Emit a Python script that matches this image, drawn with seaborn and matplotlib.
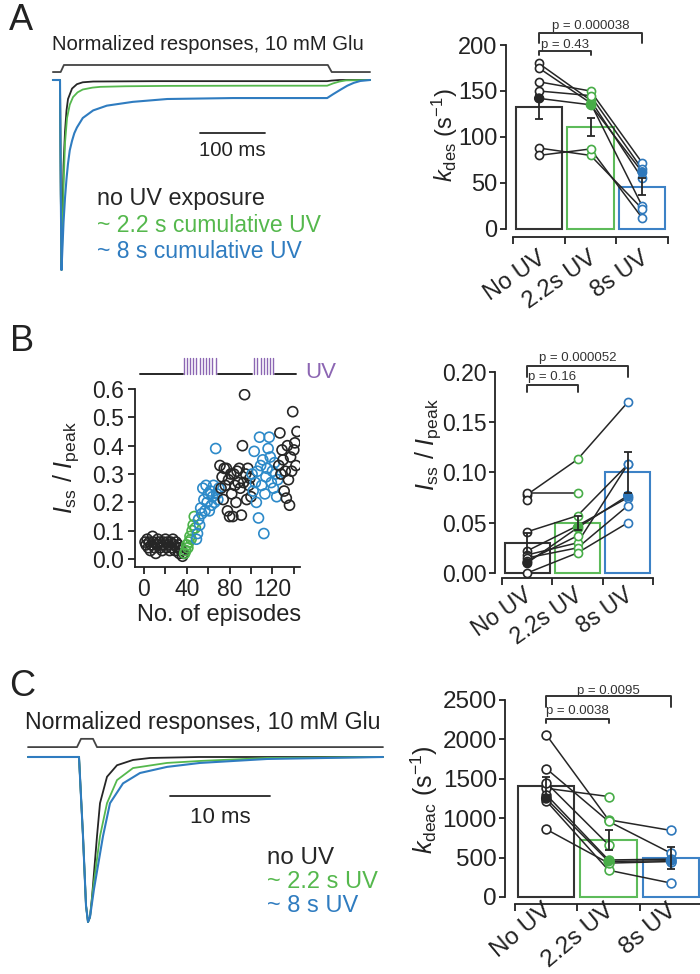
import numpy as np
import pandas as pd
import matplotlib
matplotlib.use("Agg")
import matplotlib.pyplot as plt
from matplotlib.transforms import ScaledTranslation
import seaborn as sns

sns.set_theme(style="ticks")
plt.rcParams['font.family'] = ['Liberation Sans', 'DejaVu Sans']
plt.rcParams['mathtext.fontset'] = 'custom'
plt.rcParams['mathtext.rm'] = 'Liberation Sans'
plt.rcParams['mathtext.it'] = 'Liberation Sans:italic'
plt.rcParams['axes.edgecolor'] = '#222222'
plt.rcParams['xtick.color'] = '#222222'
plt.rcParams['ytick.color'] = '#222222'
plt.rcParams['text.color'] = '#222222'

nan = np.nan
# ---------------- data ----------------
conditions = ["No UV", "2.2s UV", "8s UV"]

# Panel A traces (time in ms, normalized current)
trA_cmd_t = [-11, 1, 6, 412, 418, 477]
trA_cmd_v = [0.042, 0.042, 0.079, 0.079, 0.042, 0.042]
trA_black_t = [-11, 0, 1.2, 2.3, 3.8, 5.4, 7.7, 10, 12.3, 18.5, 26, 35, 51, 150, 411, 418, 430, 477]
trA_black_v = [0, 0, -0.6, -1.0, -0.72, -0.45, -0.27, -0.16, -0.10, -0.045, -0.022, -0.012, -0.008, -0.006, -0.006, -0.003, 0, 0]
trA_green_t = [-11, 0, 1.2, 2.3, 3.8, 5.4, 7.7, 10.8, 15, 20, 27, 35, 50, 62, 100, 165, 300, 411, 420, 430, 440, 477]
trA_green_v = [0, 0, -0.6, -1.0, -0.8, -0.56, -0.33, -0.2, -0.13, -0.09, -0.065, -0.05, -0.04, -0.036, -0.033, -0.031, -0.03, -0.03, -0.018, -0.008, -0.002, 0]
trA_blue_t = [-11, 0, 1.2, 2.3, 3.8, 5.4, 7.7, 10, 12.3, 15, 18.5, 22, 26, 35, 51, 72, 112, 165, 266, 411, 420, 432, 442, 452, 462, 477]
trA_blue_v = [0, 0, -0.6, -1.0, -0.88, -0.75, -0.62, -0.52, -0.44, -0.37, -0.32, -0.28, -0.25, -0.2, -0.16, -0.135, -0.115, -0.10, -0.095, -0.095, -0.075, -0.05, -0.03, -0.015, -0.005, 0]
scalebarA_ms = 100

# Panel A bars: k_des (s^-1)
kdes_noUV = [180, 175, 160, 150, 142, 88, 80]
kdes_22UV = [140, 137, 150, 145, 135, 80, 87]
kdes_8UV = [55, 25, 72, 65, 62, 22, 12]
kdes_example = 4
kdes_mean = [133, 111, 46]
kdes_sem = [13, 10, 9]
kdes_p = ["p = 0.000038", "p = 0.43"]

# Panel B scatter: Iss/Ipeak vs episode
ep_pre = list(range(1, 38))
iss_pre = [0.06, 0.05, 0.07, 0.04, 0.06, 0.03, 0.05, 0.08, 0.06, 0.04, 0.02, 0.05, 0.07, 0.06,
           0.04, 0.05, 0.03, 0.06, 0.05, 0.07, 0.04, 0.06, 0.05, 0.03, 0.06, 0.04, 0.07, 0.05,
           0.03, 0.06, 0.04, 0.05, 0.02, 0.04, 0.03, 0.01, 0.02]
ep_uv1_green = list(range(38, 49))
iss_uv1_green = [0.02, 0.03, 0.05, 0.04, 0.06, 0.08, 0.07, 0.10, 0.12, 0.15, 0.11]
ep_uv1_blue = list(range(49, 71))
iss_uv1_blue = [0.07, 0.09, 0.14, 0.12, 0.18, 0.16, 0.25, 0.21, 0.17, 0.26, 0.20, 0.23, 0.17,
                0.24, 0.19, 0.22, 0.26, 0.20, 0.39, 0.23, 0.21, 0.25]
ep_mid = list(range(71, 101))
iss_mid = [0.33, 0.25, 0.29, 0.21, 0.32, 0.26, 0.32, 0.17, 0.28, 0.15, 0.30, 0.23, 0.15, 0.30,
           0.26, 0.20, 0.31, 0.27, 0.32, 0.25, 0.155, 0.40, 0.27, 0.58, 0.30, 0.21, 0.32, 0.26,
           0.285, 0.22]
ep_uv2_blue = list(range(101, 126))
iss_uv2_blue = [0.30, 0.24, 0.38, 0.27, 0.20, 0.31, 0.145, 0.43, 0.33, 0.26, 0.35, 0.09, 0.23,
                0.29, 0.32, 0.39, 0.43, 0.36, 0.27, 0.31, 0.25, 0.34, 0.30, 0.22, 0.28]
ep_post = list(range(126, 144))
iss_post = [0.33, 0.445, 0.30, 0.385, 0.35, 0.24, 0.31, 0.215, 0.40, 0.28, 0.19, 0.36, 0.31,
            0.52, 0.385, 0.41, 0.33, 0.45]
uv_base_segments = [(-4, 36), (69, 101), (122, 142)]
uv_pulses = [37, 40, 43, 46, 49, 52, 55, 58, 61, 64, 67, 103, 106, 109, 112, 115, 118, 121]

# Panel B bars: Iss/Ipeak
iss_noUV = [0.078, 0.080, 0.073, 0.041, 0.022, 0.018, 0.010, 0.015, 0.000, 0.012]
iss_22UV = [0.113, 0.080, nan, 0.057, 0.047, 0.030, 0.045, 0.025, 0.020, 0.037]
iss_8UV = [0.170, nan, nan, 0.108, 0.075, 0.108, 0.077, 0.067, 0.050, nan]
iss_example = 6
iss_mean = [0.030, 0.050, 0.100]
iss_sem = [0.010, 0.007, 0.020]
iss_p = ["p = 0.000052", "p = 0.16"]

# Panel C traces (time in ms)
trC_cmd_t = [-5.1, -0.2, 0.2, 1.4, 1.8, 30.4]
trC_cmd_v = [0.06, 0.06, 0.11, 0.11, 0.06, 0.06]
trC_black_t = [-5.1, 0, 0.4, 0.7, 0.9, 1.1, 1.3, 1.8, 2.1, 2.8, 3.8, 5.4, 7.1, 12, 30.4]
trC_black_v = [0, 0, -0.48, -0.9, -1.0, -0.97, -0.85, -0.48, -0.28, -0.12, -0.05, -0.018, -0.006, 0, 0]
trC_green_t = [-5.1, 0, 0.4, 0.7, 0.9, 1.1, 1.4, 2.1, 2.8, 3.8, 5.4, 8.8, 12.1, 18.8, 30.4]
trC_green_v = [0, 0, -0.48, -0.9, -1.0, -0.97, -0.8, -0.48, -0.28, -0.14, -0.067, -0.036, -0.024, -0.006, 0]
trC_blue_t = [-5.1, 0, 0.4, 0.7, 0.9, 1.1, 1.5, 2.4, 3.1, 4.4, 6.1, 8.8, 12.1, 18.8, 30.4]
trC_blue_v = [0, 0, -0.48, -0.9, -1.0, -0.97, -0.8, -0.48, -0.28, -0.16, -0.097, -0.06, -0.036, -0.012, 0]
scalebarC_ms = 10

# Panel C bars: k_deac (s^-1)
kdeac_noUV = [2060, 1630, 1380, 1450, 1250, 1300, 1220, 860]
kdeac_22UV = [980, 960, 1275, 663, 452, 470, 340, 430]
kdeac_8UV = [845, 557, nan, nan, 460, 480, 177, 450]
kdeac_example = 4
kdeac_mean = [1410, 720, 490]
kdeac_sem = [110, 130, 140]
kdeac_p = ["p = 0.0095", "p = 0.0038"]

# ---------------- styling ----------------
BLACK = '#262626'
GREEN = '#55b84d'
BLUE = '#2f7cc0'
PURPLE = '#8c66b3'
bar_colors = ['#333333', '#5dbb5a', '#3d82c6']
pt_colors = [BLACK, '#48ad48', '#2f78bb']

W, H = 700, 974
fig = plt.figure(figsize=(W / 100, H / 100), dpi=100)


def px_axes(x0, y0, x1, y1):
    return fig.add_axes([x0 / W, 1 - y1 / H, (x1 - x0) / W, (y1 - y0) / H])


def ftext(x, y, s, **kw):
    kw.setdefault('va', 'center')
    fig.text(x / W, 1 - y / H, s, **kw)


def trace_lines(ax, series):
    for t, v, c, lw in series:
        sns.lineplot(x=t, y=v, ax=ax, color=c, linewidth=lw, sort=False, estimator=None)


def bar_panel(ax, cells_cols, example, means, sems, ylim, top, yticks, ylabels, fs,
              brackets, left_off, rot, lab_dx, lab_dy, lab_pad, pfs, s_pt):
    df = pd.DataFrame({"condition": conditions, "value": means})
    sns.barplot(data=df, x="condition", y="value", hue="condition", palette=bar_colors,
                fill=False, width=0.9, linewidth=1.5, saturation=1, legend=False,
                errorbar=None, ax=ax, zorder=1)
    cells = np.array(cells_cols, dtype=float).T
    xs = np.arange(3)
    for cell in cells:
        ax.plot(xs, cell, color=BLACK, lw=1.1, zorder=3)
    for i in range(3):
        vals = [v for v in cells_cols[i] if not np.isnan(v)]
        sns.scatterplot(x=[i] * len(vals), y=vals, ax=ax, s=s_pt, color=pt_colors[i],
                        facecolor='white', edgecolor=pt_colors[i], linewidth=1.2, zorder=4)
    ex = cells[example]
    ok = ~np.isnan(ex)
    ax.scatter(xs[ok], ex[ok], s=s_pt, c=[pt_colors[i] for i in range(3) if ok[i]],
               edgecolors=[pt_colors[i] for i in range(3) if ok[i]], zorder=5, linewidths=1.2)
    ax.errorbar(xs, means, yerr=sems, fmt='none', ecolor=BLACK, elinewidth=1.3,
                capsize=3, capthick=1.3, zorder=6)
    for s in ['top', 'right']:
        ax.spines[s].set_visible(False)
    ax.spines['left'].set_position(('outward', left_off))
    ax.spines['left'].set_bounds(0, top)
    ax.spines['left'].set_linewidth(1.3)
    ax.spines['bottom'].set_linewidth(1.3)
    ax.set_xlim(-0.5, 2.5)
    ax.set_ylim(*ylim)
    ax.set_xlabel('')
    ax.set_ylabel('')
    ax.set_xticks(xs)
    ax.set_xticklabels(conditions, rotation=rot, ha='right', va='top',
                       rotation_mode='anchor', fontsize=fs)
    ax.set_xticks([-0.5, 0.5, 1.5, 2.5], minor=True)
    ax.tick_params(axis='x', which='major', length=0, pad=lab_pad)
    ax.tick_params(axis='x', which='minor', length=5, width=1.3, direction='out')
    ax.set_yticks(yticks)
    ax.set_yticklabels(ylabels, fontsize=fs)
    ax.tick_params(axis='y', length=4, width=1.3, direction='out', pad=2)
    off = ScaledTranslation(lab_dx / 100, lab_dy / 100, fig.dpi_scale_trans)
    for lbl in ax.get_xticklabels():
        lbl.set_transform(lbl.get_transform() + off)
    for (x0, x1, yl, yt, ytxt, txt) in brackets:
        ax.plot([x0, x0, x1, x1], [yt, yl, yl, yt], color='#333333', lw=1.4, clip_on=False)
        ax.text((x0 + x1) / 2, ytxt, txt, ha='center', va='center', fontsize=pfs,
                color='#333333', clip_on=False)


# ================= Panel A =================
ftext(21, 20, "A", fontsize=26, ha='center')
ftext(52, 45, "Normalized responses, 10 mM Glu", fontsize=14.6, ha='left')
axA = px_axes(45, 55, 380, 280)
axA.set_xlim(-23.1, 492.3)
axA.set_ylim(-1.0526, 0.1316)
trace_lines(axA, [(trA_cmd_t, trA_cmd_v, '#444444', 1.3),
                  (trA_black_t, trA_black_v, BLACK, 1.3),
                  (trA_green_t, trA_green_v, GREEN, 1.3),
                  (trA_blue_t, trA_blue_v, BLUE, 1.5)])
axA.plot([215, 215 + scalebarA_ms], [-0.279, -0.279], color=BLACK, lw=1.3)
axA.text(215 + scalebarA_ms / 2, -0.37, f"{scalebarA_ms} ms", ha='center', va='center', fontsize=14.7)
axA.axis('off')
ftext(97, 198, "no UV exposure", fontsize=16.8, ha='left', color=BLACK)
ftext(97, 225, "~ 2.2 s cumulative UV", fontsize=16.6, ha='left', color=GREEN)
ftext(97, 252, "~ 8 s cumulative UV", fontsize=16.6, ha='left', color=BLUE)

axAr = px_axes(513, 45, 668, 237)
bar_panel(axAr, [kdes_noUV, kdes_22UV, kdes_8UV], kdes_example, kdes_mean, kdes_sem,
          (-8.7, 200), 200, [0, 50, 100, 150, 200], ["0", "50", "100", "150", "200"], 17,
          [(0, 2, 213, 202, 221, kdes_p[0]), (0, 1, 194, 189, 200, kdes_p[1])],
          5, 35, -2, 0, 7, 9.5, 34)
ftext(445, 135, r"$k_{\rm des}$ (s$^{-1}$)", fontsize=17, rotation=90, ha='center')

# ================= Panel B =================
ftext(22, 342, "B", fontsize=26, ha='center')
axS = px_axes(135, 389, 300, 567)
scatter_groups = [(ep_pre, iss_pre, BLACK), (ep_uv1_green, iss_uv1_green, '#4cb34a'),
                  (ep_uv1_blue, iss_uv1_blue, '#2d8ac9'), (ep_mid, iss_mid, BLACK),
                  (ep_uv2_blue, iss_uv2_blue, '#2d8ac9'), (ep_post, iss_post, BLACK)]
for ep, val, col in scatter_groups:
    sns.scatterplot(x=ep, y=val, ax=axS, s=52, color=col, facecolor='none',
                    edgecolor=col, linewidth=1.2)
axS.set_xlim(-8.4, 145.8)
axS.set_ylim(-0.028, 0.6)
axS.set_xticks([0, 40, 80, 120])
axS.set_xticks([20, 60, 100, 140], minor=True)
axS.set_yticks([0, 0.1, 0.2, 0.3, 0.4, 0.5, 0.6])
axS.set_yticklabels(["0.0", "0.1", "0.2", "0.3", "0.4", "0.5", "0.6"], fontsize=16.5)
axS.set_xticklabels(["0", "40", "80", "120"], fontsize=16.5)
axS.tick_params(axis='both', which='both', length=5, width=1.3, direction='out', pad=3)
axS.set_xlabel('')
axS.set_ylabel('')
for s in ['top', 'right']:
    axS.spines[s].set_visible(False)
for s in ['left', 'bottom']:
    axS.spines[s].set_linewidth(1.3)
for a, b in uv_base_segments:
    axS.plot([a, b], [0.653, 0.653], color=BLACK, lw=1.4, clip_on=False)
for p in uv_pulses:
    axS.plot([p, p], [0.653, 0.708], color=PURPLE, lw=1.0, clip_on=False)
ftext(305, 373, "UV", fontsize=16, ha='left', color=PURPLE)
ftext(219, 615, "No. of episodes", fontsize=17, ha='center')
ftext(66, 468, r"$I_{\rm ss}$ / $I_{\rm peak}$", fontsize=18, rotation=90, ha='center')

axBr = px_axes(502, 372, 653, 578)
bar_panel(axBr, [iss_noUV, iss_22UV, iss_8UV], iss_example, iss_mean, iss_sem,
          (-0.005, 0.2), 0.2, [0, 0.05, 0.10, 0.15, 0.20], ["0.00", "0.05", "0.10", "0.15", "0.20"], 16.5,
          [(0, 2, 0.206, 0.195, 0.214, iss_p[0]), (0, 1, 0.187, 0.180, 0.195, iss_p[1])],
          5, 35, -4, 0, 4, 9.5, 34)
ftext(428, 445, r"$I_{\rm ss}$ / $I_{\rm peak}$", fontsize=18, rotation=90, ha='center')

# ================= Panel C =================
ftext(22, 687, "C", fontsize=26, ha='center')
ftext(25, 722, "Normalized responses, 10 mM Glu", fontsize=16.7, ha='left')
axC = px_axes(20, 730, 395, 930)
axC.set_xlim(-5.9, 31.6)
axC.set_ylim(-1.0485, 0.1636)
trace_lines(axC, [(trC_cmd_t, trC_cmd_v, '#444444', 1.3),
                  (trC_black_t, trC_black_v, BLACK, 1.3),
                  (trC_green_t, trC_green_v, GREEN, 1.3),
                  (trC_blue_t, trC_blue_v, BLUE, 1.5)])
axC.plot([9.1, 9.1 + scalebarC_ms], [-0.236, -0.236], color=BLACK, lw=1.3)
axC.text(9.1 + scalebarC_ms / 2, -0.364, f"{scalebarC_ms} ms", ha='center', va='center', fontsize=16)
axC.axis('off')
ftext(267, 858, "no UV", fontsize=17.4, ha='left', color=BLACK)
ftext(267, 882, "~ 2.2 s UV", fontsize=17, ha='left', color=GREEN)
ftext(267, 906, "~ 8 s UV", fontsize=17, ha='left', color=BLUE)

axCr = px_axes(515, 700, 702, 904)
bar_panel(axCr, [kdeac_noUV, kdeac_22UV, kdeac_8UV], kdeac_example, kdeac_mean, kdeac_sem,
          (-89, 2500), 2500, [0, 500, 1000, 1500, 2000, 2500],
          ["0", "500", "1000", "1500", "2000", "2500"], 17.5,
          [(0, 2, 2551, 2411, 2614, kdeac_p[0]), (0, 1, 2259, 2208, 2360, kdeac_p[1])],
          7, 40, -4, 9, 3, 9.5, 40)
ftext(424, 800, r"$k_{\rm deac}$ (s$^{-1}$)", fontsize=18, rotation=90, ha='center')

fig.savefig("out.png", dpi=100)
